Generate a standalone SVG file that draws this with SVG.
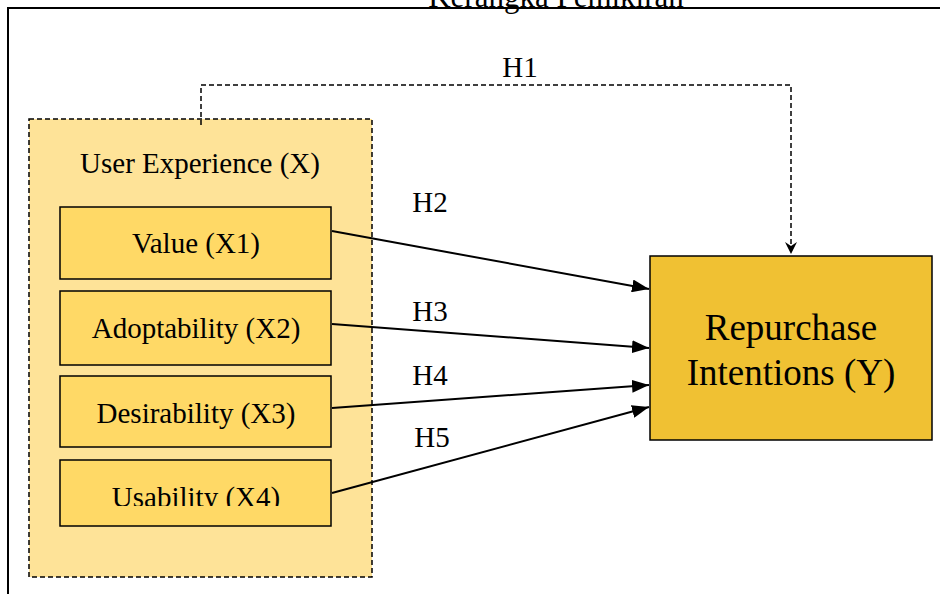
<svg xmlns="http://www.w3.org/2000/svg" width="940" height="594" viewBox="0 0 940 594">
<defs>
<style>
text{font-family:"Liberation Serif","Times New Roman",serif;fill:#000;text-anchor:middle;font-size:29px}
.sub{fill:#FFD966;stroke:#000;stroke-width:1.5}
.conn{stroke:#000;stroke-width:2;fill:none}
.dash{stroke:#000;stroke-width:1.5;fill:none;stroke-dasharray:5 3}
.big{font-size:37px}
</style>
<marker id="ah" viewBox="0 0 17 13" refX="17" refY="6.5" markerWidth="17" markerHeight="13" markerUnits="userSpaceOnUse" orient="auto">
<path d="M0,0 L17,6.5 L0,13 Z" fill="#000"/>
</marker>
<marker id="ah2" viewBox="0 0 12 12" refX="12" refY="6" markerWidth="12" markerHeight="12" markerUnits="userSpaceOnUse" orient="auto">
<path d="M0,0 L12,6 L0,12 L4,6 Z" fill="#000"/>
</marker>
<clipPath id="clipU"><rect x="60" y="460" width="272" height="46"/></clipPath>
</defs>
<rect width="940" height="594" fill="#fff"/>
<path d="M8,594 V8 H940" fill="none" stroke="#000" stroke-width="2"/>
<text x="556" y="7" style="font-size:31px">Kerangka Pemikiran</text>
<g id="ux">
<rect x="29" y="119" width="343" height="458" fill="#FEE398" stroke="#000" stroke-width="1.5" stroke-dasharray="5 3"/>
<text x="200" y="173">User Experience (X)</text>
</g>
<g id="x1"><rect class="sub" x="60" y="207" width="271" height="72"/><text x="196" y="253">Value (X1)</text></g>
<g id="x2"><rect class="sub" x="60" y="291" width="271" height="74"/><text x="196" y="338">Adoptability (X2)</text></g>
<g id="x3"><rect class="sub" x="60" y="376" width="271" height="71"/><text x="196" y="423">Desirability (X3)</text></g>
<g id="x4"><rect class="sub" x="60" y="460" width="271" height="66"/><text x="196" y="507" clip-path="url(#clipU)">Usability (X4)</text></g>
<g id="y">
<rect x="650" y="256" width="282" height="184" fill="#F0C133" stroke="#000" stroke-width="1.5"/>
<text class="big" x="791" y="340">Repurchase</text>
<text class="big" x="791" y="385">Intentions (Y)</text>
</g>
<g id="connectors">
<path class="dash" d="M201,125 V85 H791 V254" marker-end="url(#ah2)"/>
<line class="conn" x1="332" y1="231" x2="649" y2="289" marker-end="url(#ah)"/>
<line class="conn" x1="332" y1="324" x2="649" y2="348" marker-end="url(#ah)"/>
<line class="conn" x1="332" y1="408" x2="649" y2="385" marker-end="url(#ah)"/>
<line class="conn" x1="332" y1="493" x2="649" y2="407" marker-end="url(#ah)"/>
<text x="520" y="77">H1</text>
<text x="430" y="212">H2</text>
<text x="430" y="321">H3</text>
<text x="430" y="385">H4</text>
<text x="432" y="447">H5</text>
</g>
</svg>
